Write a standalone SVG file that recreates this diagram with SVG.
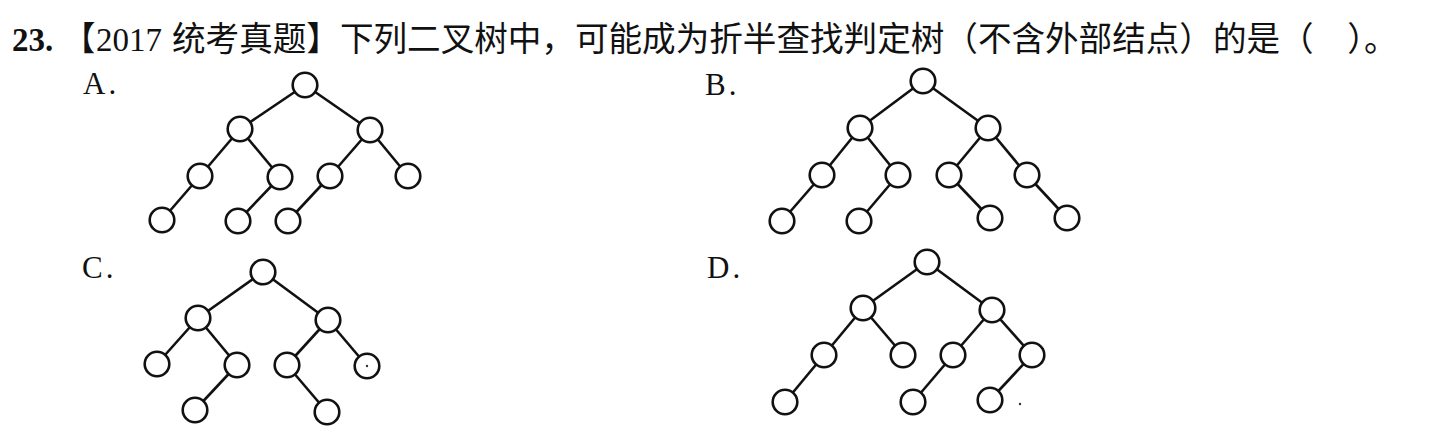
<svg xmlns="http://www.w3.org/2000/svg" width="1444" height="436" viewBox="0 0 1444 436">
<style>
.t{font-family:"Noto Sans CJK SC","Liberation Serif",serif;font-size:33.6px;fill:#111}
.l{font-family:"Liberation Serif","Times New Roman",serif;fill:#111}
.lab{font-family:"Liberation Serif","Times New Roman",serif;font-size:31px;fill:#111;letter-spacing:3px}
.e line{stroke:#111;stroke-width:2.6}
.n{fill:#fff;stroke:#111;stroke-width:2.6}
</style>
<rect width="1444" height="436" fill="#fff"/>
<g id="title">
<text class="t" x="12" y="51"><tspan class="l" font-weight="bold" font-size="33">23.</tspan><tspan x="62">【</tspan><tspan class="l" font-size="33" x="96">2017</tspan><tspan x="172">统考真题】下列二叉树中，可能成为折半查找判定树（不含外部结点）的是（　）。</tspan></text>
</g>
<g id="labels">
<text class="lab" x="83" y="94">A.</text>
<text class="lab" x="705" y="95">B.</text>
<text class="lab" x="82" y="278">C.</text>
<text class="lab" x="707" y="278">D.</text>
</g>
<g id="connectors" class="e">
<line x1="305" y1="85" x2="240" y2="129"/><line x1="305" y1="85" x2="370" y2="130"/>
<line x1="240" y1="129" x2="200" y2="176"/><line x1="240" y1="129" x2="280" y2="177"/>
<line x1="370" y1="130" x2="330" y2="176"/><line x1="370" y1="130" x2="408" y2="176"/>
<line x1="200" y1="176" x2="162" y2="220"/><line x1="280" y1="177" x2="238" y2="221"/>
<line x1="330" y1="176" x2="288" y2="221"/>
<line x1="923" y1="81" x2="860" y2="128"/><line x1="923" y1="81" x2="988" y2="128"/>
<line x1="860" y1="128" x2="822" y2="175"/><line x1="860" y1="128" x2="898" y2="175"/>
<line x1="988" y1="128" x2="949" y2="175"/><line x1="988" y1="128" x2="1027" y2="175"/>
<line x1="822" y1="175" x2="782" y2="221"/><line x1="898" y1="175" x2="859" y2="221"/>
<line x1="949" y1="175" x2="990" y2="218"/><line x1="1027" y1="175" x2="1067" y2="218"/>
<line x1="263" y1="272" x2="198" y2="318"/><line x1="263" y1="272" x2="328" y2="320"/>
<line x1="198" y1="318" x2="157" y2="364"/><line x1="198" y1="318" x2="237" y2="365"/>
<line x1="328" y1="320" x2="287" y2="365"/><line x1="328" y1="320" x2="367" y2="366"/>
<line x1="237" y1="365" x2="195" y2="410"/><line x1="287" y1="365" x2="327" y2="412"/>
<line x1="927" y1="262" x2="863" y2="308"/><line x1="927" y1="262" x2="992" y2="310"/>
<line x1="863" y1="308" x2="824" y2="355"/><line x1="863" y1="308" x2="903" y2="355"/>
<line x1="992" y1="310" x2="953" y2="355"/><line x1="992" y1="310" x2="1032" y2="355"/>
<line x1="824" y1="355" x2="785" y2="402"/><line x1="953" y1="355" x2="913" y2="402"/>
<line x1="1032" y1="355" x2="990" y2="400"/>
</g>
<g id="treeA">
<circle class="n" cx="305" cy="85" r="12.3"/><circle class="n" cx="240" cy="129" r="12.3"/><circle class="n" cx="370" cy="130" r="12.3"/>
<circle class="n" cx="200" cy="176" r="12.3"/><circle class="n" cx="280" cy="177" r="12.3"/><circle class="n" cx="330" cy="176" r="12.3"/><circle class="n" cx="408" cy="176" r="12.3"/>
<circle class="n" cx="162" cy="220" r="12.3"/><circle class="n" cx="238" cy="221" r="12.3"/><circle class="n" cx="288" cy="221" r="12.3"/>
</g>
<g id="treeB">
<circle class="n" cx="923" cy="81" r="12.3"/><circle class="n" cx="860" cy="128" r="12.3"/><circle class="n" cx="988" cy="128" r="12.3"/>
<circle class="n" cx="822" cy="175" r="12.3"/><circle class="n" cx="898" cy="175" r="12.3"/><circle class="n" cx="949" cy="175" r="12.3"/><circle class="n" cx="1027" cy="175" r="12.3"/>
<circle class="n" cx="782" cy="221" r="12.3"/><circle class="n" cx="859" cy="221" r="12.3"/><circle class="n" cx="990" cy="218" r="12.3"/><circle class="n" cx="1067" cy="218" r="12.3"/>
</g>
<g id="treeC">
<circle class="n" cx="263" cy="272" r="12.3"/><circle class="n" cx="198" cy="318" r="12.3"/><circle class="n" cx="328" cy="320" r="12.3"/>
<circle class="n" cx="157" cy="364" r="12.3"/><circle class="n" cx="237" cy="365" r="12.3"/><circle class="n" cx="287" cy="365" r="12.3"/><circle class="n" cx="367" cy="366" r="12.3"/>
<circle class="n" cx="195" cy="410" r="12.3"/><circle class="n" cx="327" cy="412" r="12.3"/>
<circle cx="367" cy="366" r="1.2" fill="#333"/>
</g>
<g id="treeD">
<circle class="n" cx="927" cy="262" r="12.3"/><circle class="n" cx="863" cy="308" r="12.3"/><circle class="n" cx="992" cy="310" r="12.3"/>
<circle class="n" cx="824" cy="355" r="12.3"/><circle class="n" cx="903" cy="355" r="12.3"/><circle class="n" cx="953" cy="355" r="12.3"/><circle class="n" cx="1032" cy="355" r="12.3"/>
<circle class="n" cx="785" cy="402" r="12.3"/><circle class="n" cx="913" cy="402" r="12.3"/><circle class="n" cx="990" cy="400" r="12.3"/>
<circle cx="1020" cy="404" r="1.2" fill="#333"/>
</g>
</svg>
